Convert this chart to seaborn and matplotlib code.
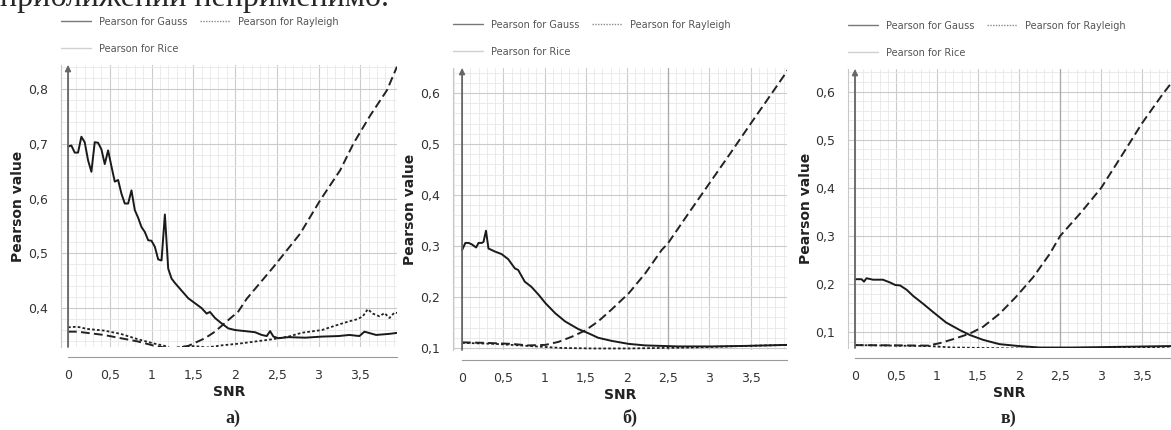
# Pearson value vs SNR for three noise models (panels а, б, в)

import numpy as np
import matplotlib.pyplot as plt
import matplotlib.ticker as mticker
from matplotlib.lines import Line2D
import seaborn as sns

# ---- panel а) ----
a_gauss_x = [0.00, 0.04, 0.08, 0.12, 0.16, 0.20, 0.24, 0.28, 0.32, 0.36, 0.40, 0.44, 0.48,
             0.52, 0.56, 0.60, 0.64, 0.68, 0.72, 0.76, 0.80, 0.84, 0.88, 0.92, 0.96, 1.00,
             1.04, 1.08, 1.12, 1.16, 1.20, 1.24, 1.28, 1.36, 1.44, 1.52, 1.60, 1.66, 1.70,
             1.76, 1.84, 1.92, 2.00, 2.12, 2.24, 2.32, 2.38, 2.42, 2.46, 2.52, 2.64, 2.84,
             3.04, 3.24, 3.37, 3.49, 3.55, 3.62, 3.69, 3.85, 3.95]
a_gauss_y = [0.695, 0.697, 0.684, 0.684, 0.713, 0.703, 0.670, 0.649, 0.703, 0.702, 0.690, 0.663, 0.688,
             0.659, 0.631, 0.634, 0.609, 0.591, 0.591, 0.615, 0.579, 0.565, 0.548, 0.539, 0.524, 0.523,
             0.512, 0.489, 0.487, 0.571, 0.472, 0.454, 0.446, 0.432, 0.418, 0.409, 0.400, 0.390, 0.393,
             0.382, 0.372, 0.363, 0.360, 0.358, 0.356, 0.351, 0.349, 0.358, 0.348, 0.345, 0.347, 0.346,
             0.348, 0.349, 0.351, 0.349, 0.357, 0.354, 0.351, 0.353, 0.355]
a_rayleigh_x = [0.00, 0.11, 0.23, 0.43, 0.63, 0.84, 1.04, 1.16, 1.24, 1.44, 1.56, 1.66, 1.84, 2.04,
                2.24, 2.44, 2.64, 2.80, 3.04, 3.24, 3.37, 3.47, 3.53, 3.59, 3.65, 3.73, 3.79, 3.85,
                3.91, 3.95]
a_rayleigh_y = [0.365, 0.366, 0.362, 0.359, 0.353, 0.343, 0.335, 0.331, 0.326, 0.331, 0.330, 0.328,
                0.332, 0.335, 0.339, 0.343, 0.348, 0.355, 0.360, 0.370, 0.376, 0.380, 0.385, 0.398,
                0.390, 0.385, 0.391, 0.382, 0.392, 0.391]
a_rice_x = [0.00, 0.11, 0.43, 0.84, 1.04, 1.24, 1.44, 1.64, 1.76, 1.88, 2.04, 2.14, 2.46, 2.78,
            3.02, 3.26, 3.42, 3.62, 3.82, 3.94]
a_rice_y = [0.357, 0.357, 0.351, 0.339, 0.331, 0.326, 0.331, 0.345, 0.357, 0.373, 0.394, 0.417,
            0.475, 0.536, 0.597, 0.652, 0.701, 0.752, 0.798, 0.841]

# ---- panel б) ----
b_gauss_x = [0.00, 0.04, 0.08, 0.12, 0.17, 0.20, 0.24, 0.26, 0.29, 0.32, 0.40, 0.48, 0.56, 0.64,
             0.68, 0.76, 0.84, 0.93, 1.01, 1.13, 1.25, 1.41, 1.53, 1.65, 1.81, 2.02, 2.22, 2.42,
             2.62, 3.03, 3.43, 3.95]
b_gauss_y = [0.292, 0.306, 0.306, 0.303, 0.297, 0.306, 0.306, 0.308, 0.330, 0.295, 0.289, 0.284,
             0.274, 0.256, 0.253, 0.230, 0.220, 0.204, 0.188, 0.168, 0.152, 0.137, 0.129, 0.120,
             0.114, 0.108, 0.105, 0.104, 0.103, 0.103, 0.104, 0.106]
b_rayleigh_x = [0.00, 0.40, 0.80, 1.21, 1.61, 2.02, 2.42, 2.82, 3.43, 3.95]
b_rayleigh_y = [0.110, 0.108, 0.104, 0.100, 0.099, 0.099, 0.100, 0.101, 0.104, 0.106]
b_rice_x = [0.00, 0.28, 0.60, 0.80, 1.01, 1.17, 1.33, 1.49, 1.65, 1.81, 2.02, 2.22, 2.42, 2.50,
            2.75, 3.00, 3.25, 3.50, 3.75, 3.95]
b_rice_y = [0.111, 0.110, 0.108, 0.105, 0.106, 0.112, 0.122, 0.134, 0.152, 0.175, 0.207, 0.246,
            0.292, 0.306, 0.365, 0.423, 0.481, 0.540, 0.598, 0.645]

# ---- panel в) ----
c_gauss_x = [0.00, 0.08, 0.11, 0.14, 0.22, 0.34, 0.43, 0.49, 0.55, 0.63, 0.71, 0.83, 0.95, 1.11,
             1.28, 1.40, 1.56, 1.76, 2.00, 2.25, 2.65, 3.06, 3.46, 3.85]
c_gauss_y = [0.210, 0.210, 0.205, 0.212, 0.209, 0.209, 0.203, 0.198, 0.197, 0.188, 0.175, 0.159,
             0.142, 0.120, 0.104, 0.094, 0.084, 0.075, 0.071, 0.068, 0.068, 0.069, 0.070, 0.071]
c_rayleigh_x = [0.00, 0.90, 1.20, 1.60, 2.00, 2.50, 3.00, 3.50, 3.85]
c_rayleigh_y = [0.073, 0.071, 0.068, 0.067, 0.066, 0.066, 0.067, 0.068, 0.070]
c_rice_x = [0.00, 0.89, 1.03, 1.19, 1.40, 1.56, 1.76, 1.96, 2.17, 2.37, 2.50, 2.75, 3.00, 3.25,
            3.50, 3.75, 3.85]
c_rice_y = [0.073, 0.072, 0.077, 0.085, 0.097, 0.111, 0.138, 0.173, 0.214, 0.262, 0.300, 0.348,
            0.400, 0.467, 0.535, 0.595, 0.617]

panel_letters = ['а)', 'б)', 'в)']
legend_labels = ['Pearson for Gauss', 'Pearson for Rayleigh', 'Pearson for Rice']

sns.set_style('white')
plt.rcParams['font.family'] = ['DejaVu Sans']

W, H = 1171, 430
fig = plt.figure(figsize=(W / 100, H / 100), dpi=100)

# axes boxes in pixels: left, top, right, bottom
boxes = [(61, 65, 397, 347), (453, 68, 787, 350), (848, 69, 1171, 348)]
xlims = [(-0.084, 3.94), (-0.11, 3.94), (-0.085, 3.85)]
ylims = [(0.329, 0.844), (0.096, 0.649), (0.067, 0.647)]
letter_x = [233, 630, 1008]
panels = [
    (a_gauss_x, a_gauss_y, a_rayleigh_x, a_rayleigh_y, a_rice_x, a_rice_y),
    (b_gauss_x, b_gauss_y, b_rayleigh_x, b_rayleigh_y, b_rice_x, b_rice_y),
    (c_gauss_x, c_gauss_y, c_rayleigh_x, c_rayleigh_y, c_rice_x, c_rice_y),
]

comma = mticker.FuncFormatter(lambda v, p: f'{v:g}'.replace('.', ','))

for i, (gx, gy, rx, ry, cx, cy) in enumerate(panels):
    l, t, r, b = boxes[i]
    ax = fig.add_axes([l / W, 1 - b / H, (r - l) / W, (b - t) / H])

    ax.xaxis.set_major_locator(mticker.MultipleLocator(0.5))
    ax.xaxis.set_minor_locator(mticker.MultipleLocator(0.1))
    ax.yaxis.set_major_locator(mticker.MultipleLocator(0.1))
    ax.yaxis.set_minor_locator(mticker.MultipleLocator(0.02))
    ax.xaxis.set_major_formatter(comma)
    ax.yaxis.set_major_formatter(comma)
    ax.grid(which='major', color='#cbcbcb', lw=0.8)
    ax.grid(which='minor', color='#e8e8e8', lw=0.6)
    ax.set_axisbelow(True)
    if i > 0:
        ax.axvline(2.5, color='#a8a8a8', lw=0.9, zorder=1)

    sns.lineplot(x=rx, y=ry, ax=ax, color='#222222', lw=1.3,
                 linestyle=(0, (1.5, 1.2)), estimator=None, sort=False)
    sns.lineplot(x=cx, y=cy, ax=ax, color='#222222', lw=1.4,
                 linestyle=(0, (4.5, 2.2)), estimator=None, sort=False)
    sns.lineplot(x=gx, y=gy, ax=ax, color='#1a1a1a', lw=1.4,
                 estimator=None, sort=False)

    ax.set_xlim(*xlims[i])
    ax.set_ylim(*ylims[i])

    # vertical axis arrow at SNR = 0
    ax.annotate('', xy=(0, ylims[i][1]), xytext=(0, ylims[i][0]),
                arrowprops=dict(arrowstyle='-|>', color='#666666', lw=1.3,
                                mutation_scale=8, shrinkA=0, shrinkB=0))

    for s in ['top', 'right']:
        ax.spines[s].set_visible(False)
    ax.spines['left'].set_color('#c8c8c8')
    ax.spines['bottom'].set_color('#9a9a9a')
    ax.spines['bottom'].set_position(('outward', 7))
    ax.spines['bottom'].set_bounds(0, xlims[i][1])

    ax.tick_params(which='both', direction='out', colors='#9a9a9a',
                   labelcolor='#333333', labelsize=9, width=0.8)
    ax.tick_params(which='major', length=6)
    ax.tick_params(which='minor', length=4)
    ax.tick_params(axis='x', pad=3)

    ax.set_xlabel('SNR', fontsize=10, fontweight='bold', color='#222222')
    ax.set_ylabel('Pearson value', fontsize=10, fontweight='bold', color='#222222')
    ax.xaxis.set_label_coords(0.5, -0.135)
    ax.yaxis.set_label_coords(-0.108, 0.5)

    handles = [Line2D([], [], color='#777777', lw=1.0),
               Line2D([], [], color='#d0d0d0', lw=1.0),
               Line2D([], [], color='#8a8a8a', lw=1.0, linestyle=(0, (1, 1)))]
    ax.legend(handles, [legend_labels[0], legend_labels[2], legend_labels[1]],
              ncol=2, loc='lower left', bbox_to_anchor=(0, 1.04), frameon=False,
              fontsize=7, labelcolor='#555555', borderaxespad=0, borderpad=0,
              handlelength=3.1, handletextpad=0.8, columnspacing=1.3, labelspacing=1.75)

    fig.text(letter_x[i] / W, 1 - 418 / H, panel_letters[i], ha='center', va='center',
             fontsize=13, fontweight='bold', family='Liberation Serif')

# clipped line of document text at the very top
fig.text(0.0, 1 - 6 / H, 'приближении неприменимо.', ha='left', va='baseline',
         fontsize=23, family='Liberation Serif')

fig.savefig('out.png', dpi=100)
